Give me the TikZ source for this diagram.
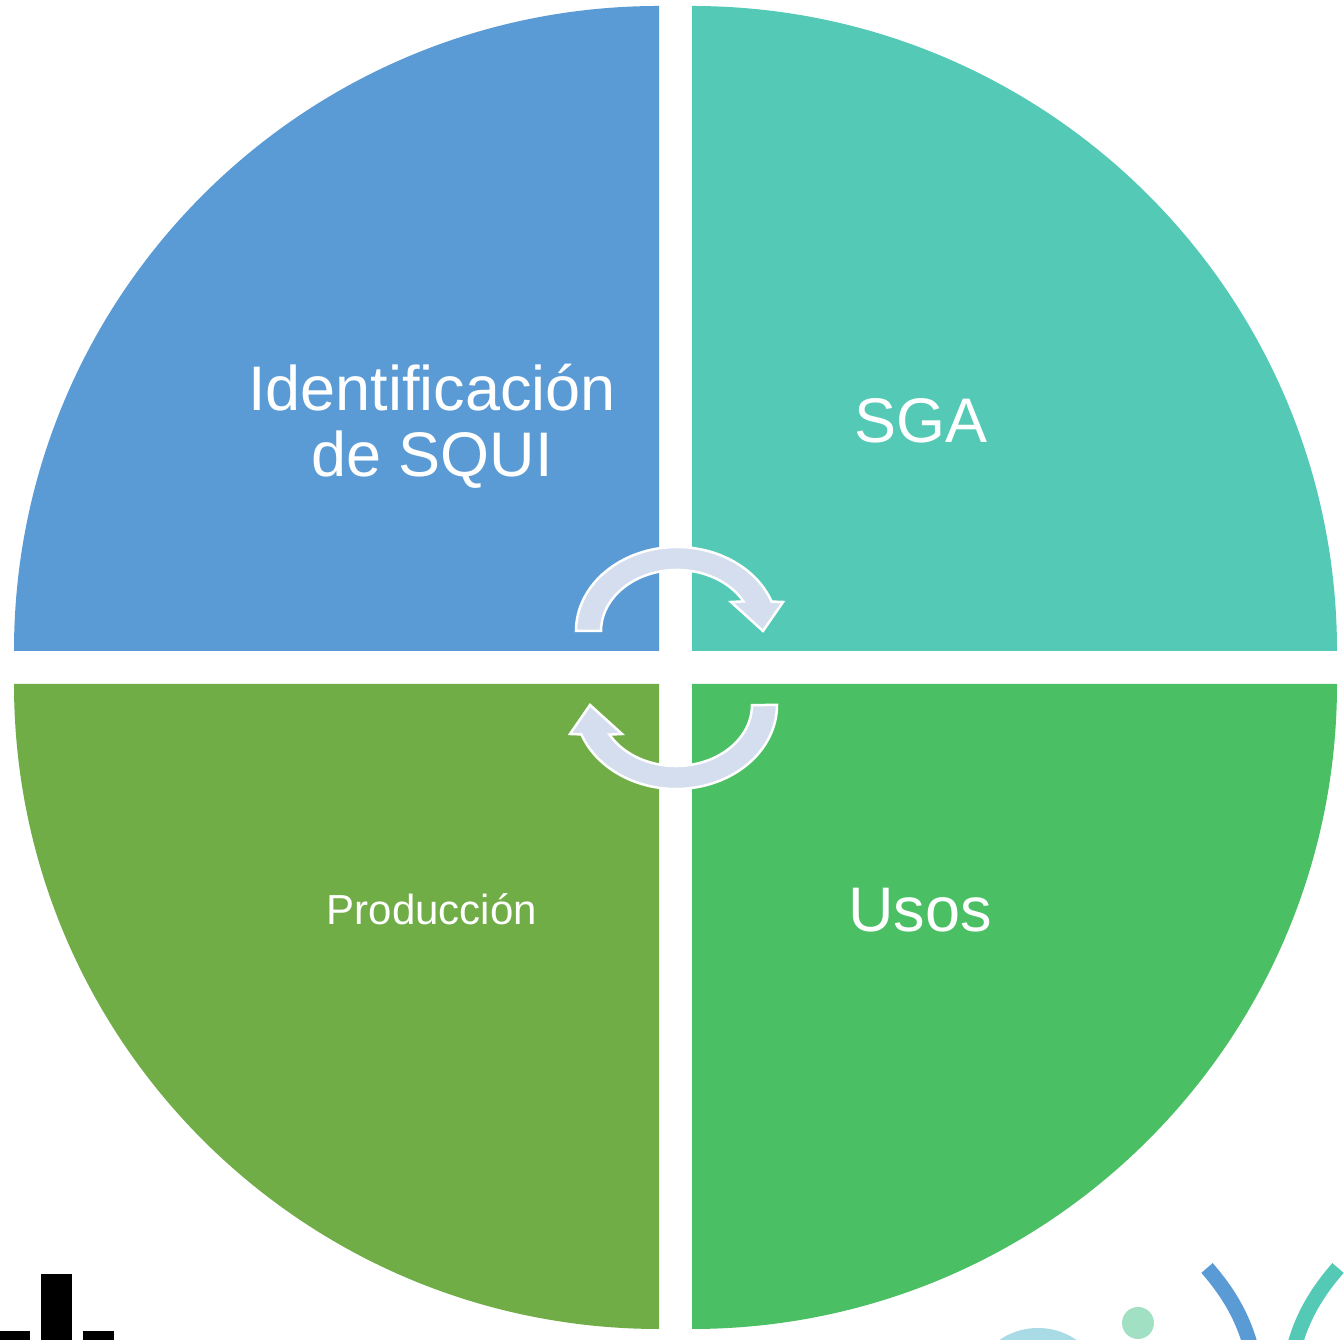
\documentclass[tikz,border=0pt]{standalone}
\usepackage{fontspec}
\setmainfont{Liberation Sans}
\definecolor{qblue}{HTML}{5B9BD5}
\definecolor{qteal}{HTML}{53C9B6}
\definecolor{qolive}{HTML}{70AD47}
\definecolor{qgreen}{HTML}{4ABF63}
\definecolor{arrowfill}{HTML}{D4DEEF}
\definecolor{lightcyan}{HTML}{A9DBE6}
\definecolor{mint}{HTML}{A2E0C4}
\tikzset{
  quadrant/.style={draw=none},
  cyclearrow/.style={fill=arrowfill,draw=white,line width=2.5pt,line join=miter},
  bigtext/.style={text=white,font=\fontsize{63}{66}\selectfont,align=center,inner sep=0pt},
  smalltext/.style={text=white,font=\fontsize{42}{46}\selectfont,inner sep=0pt},
  decostroke/.style={line width=15pt,line cap=butt}
}
\begin{document}
\begin{tikzpicture}[x=1pt,y=1pt]
\useasboundingbox (0,0) rectangle (1344,1340);
\clip (0,0) rectangle (1344,1340);
\fill[white] (0,0) rectangle (1344,1340);
% quadrants
\fill[qblue,quadrant] (659,689) -- (14,689) arc[start angle=180,end angle=90,radius=645] -- cycle;
\fill[qteal,quadrant] (692,689) -- (1337,689) arc[start angle=0,end angle=90,radius=645] -- cycle;
\fill[qolive,quadrant] (659,656) -- (14,656) arc[start angle=180,end angle=270,radius=645] -- cycle;
\fill[qgreen,quadrant] (692,656) -- (1337,656) arc[start angle=0,end angle=-90,radius=645] -- cycle;
% labels
\node[bigtext,anchor=base] (ident) at (432,863) {Identificación\\de SQUI};
\node[bigtext,anchor=base] (sga) at (921,897) {SGA};
\node[bigtext,anchor=base] (usos) at (920,408) {Usos};
\node[smalltext,anchor=base] (prod) at (432,415) {Producción};
% cycle arrows
\path[cyclearrow] (576,709) arc[start angle=180,end angle=20.5,x radius=101,y radius=84]
  -- (783,738) -- (763,709) -- (731,738) -- (743.5,738.6)
  arc[start angle=29,end angle=180,x radius=76,y radius=61] -- cycle;
\begin{scope}[rotate around={180:(676.5,672)}]
\path[cyclearrow] (576,709) arc[start angle=180,end angle=20.5,x radius=101,y radius=84]
  -- (783,738) -- (763,709) -- (731,738) -- (743.5,738.6)
  arc[start angle=29,end angle=180,x radius=76,y radius=61] -- cycle;
\end{scope}
% bottom-left black bars
\fill[black] (0,0) rectangle (30,9);
\fill[black] (41,0) rectangle (72,66);
\fill[black] (83,0) rectangle (114,9);
% bottom-right decorations
\fill[lightcyan] (1038,-56) circle[radius=68];
\fill[mint] (1138,17) circle[radius=16];
\draw[qblue,decostroke] (1207,72) .. controls (1228,48) and (1242,24) .. (1250,-4);
\draw[qteal,decostroke] (1338,72) .. controls (1317,48) and (1303,24) .. (1295,-4);
\end{tikzpicture}
\end{document}
